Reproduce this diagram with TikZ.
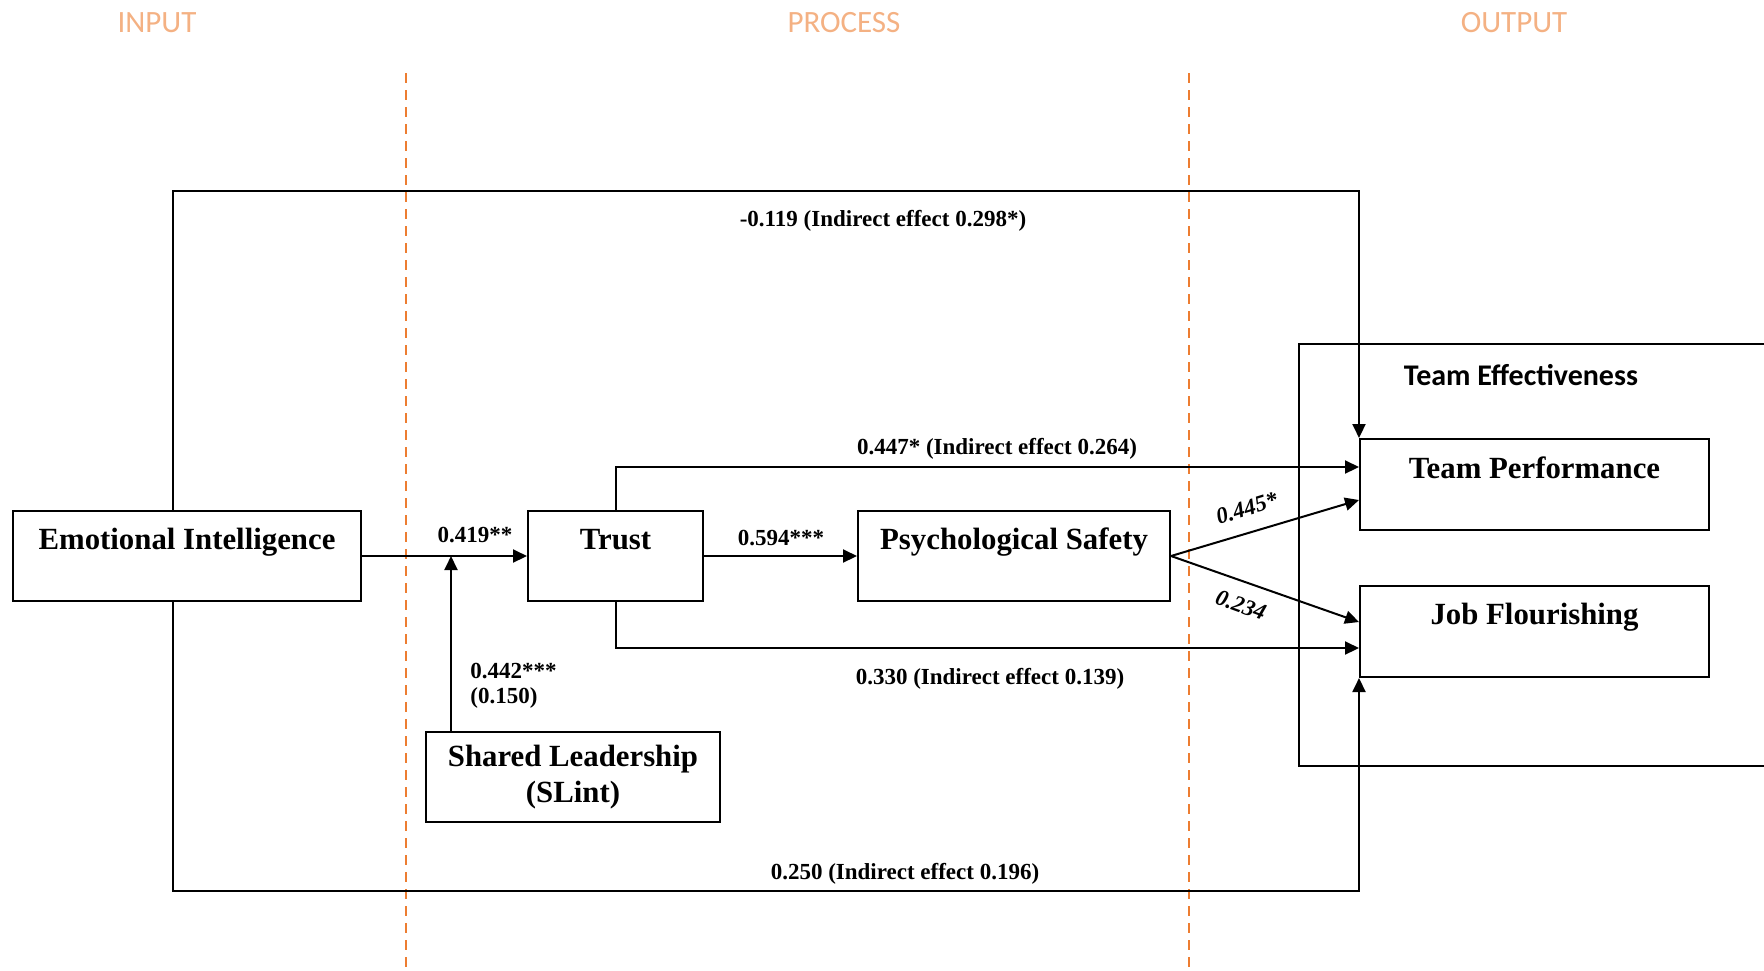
\documentclass[tikz,border=0pt]{standalone}
\usepackage{fontspec}
\setmainfont{Liberation Serif}
\newfontfamily\calfont{Carlito}
\usetikzlibrary{arrows.meta,calc}
\definecolor{phase}{RGB}{244,177,131}
\definecolor{divider}{RGB}{237,125,49}
\begin{document}
\begin{tikzpicture}[x=0.5pt,y=-0.5pt,
  box/.style={draw, line width=1pt, inner sep=0pt,
    font=\fontsize{15.4}{18}\selectfont\bfseries},
  onebox/.style={box, text height=19pt, text depth=26pt},
  lab/.style={inner sep=0pt, font=\fontsize{11.5}{13.8}\selectfont\bfseries},
  conn/.style={line width=1pt},
  arr/.style={conn, -{Triangle[length=7pt,width=6.5pt]}},
  phasetxt/.style={text=phase, inner sep=0pt, font=\calfont\fontsize{15.5}{18}\selectfont},
  divline/.style={draw=divider, line width=0.8pt, dash pattern=on 5pt off 3.5pt}]
\useasboundingbox (0,0) rectangle (1764,970);

% phase headings and dividers
\node[phasetxt] (hin)  at (157,23)  {INPUT};
\node[phasetxt] (hpro) at (844,23)  {PROCESS};
\node[phasetxt] (hout) at (1514,23) {OUTPUT};
\draw[divline] (406,73) -- (406,970);
\draw[divline] (1189,73) -- (1189,970);

% outcome container (open on the right)
\draw[line width=1pt] (1775,344) -- (1299,344) -- (1299,766) -- (1775,766);
\node[inner sep=0pt, font=\calfont\bfseries\fontsize{15}{18}\selectfont] (te) at (1521,375) {Team Effectiveness};

% variables
\node[onebox, minimum width=173.75pt] (EI)    at (187,556)    {Emotional Intelligence};
\node[onebox, minimum width=87.5pt]   (Trust) at (615.5,556)  {Trust};
\node[onebox, minimum width=156pt]    (PS)    at (1014,556)   {Psychological Safety};
\node[box, minimum width=147pt, minimum height=45pt, align=center] (SL) at (573,777)
  {Shared Leadership\\(SLint)};
\node[box, minimum width=174.5pt, text height=19.5pt, text depth=26pt] (TP) at (1534.5,484.5) {Team Performance};
\node[box, minimum width=174.5pt, text height=19pt, text depth=26.5pt] (JF) at (1534.5,631.5) {Job Flourishing};

% paths
\coordinate (eiUp)   at ([xshift=-7pt]EI.north);
\coordinate (eiDown) at ([xshift=-7pt]EI.south);
\coordinate (slUp)   at ([xshift=13pt]SL.north west);

\draw[arr] (eiUp) -- (eiUp |- 0,191) -| (TP.north west);
\draw[arr] (eiDown) -- (eiDown |- 0,891) -| (JF.south west);
\draw[arr] (EI.east) -- (Trust.west);
\draw[arr] (slUp) -- (slUp |- EI.east);
\draw[arr] (Trust.east) -- (PS.west);
\draw[arr] (Trust.north) |- ([yshift=8.75pt]TP.west);
\draw[arr] (Trust.south) |- ([yshift=-8.25pt]JF.west);
\draw[arr] (PS.east) -- ([yshift=-7.75pt]TP.west);
\draw[arr] (PS.east) -- ([yshift=4.75pt]JF.west);

% coefficients
\node[lab] (l1) at (883,221) {-0.119 (Indirect effect 0.298*)};
\node[lab] (l2) at (905,874) {0.250 (Indirect effect 0.196)};
\node[lab] (l3) at (475,535) {0.419**};
\node[lab] (l4) at (781,538) {0.594***};
\node[lab, anchor=west] (l5) at (470,671) {0.442***};
\node[lab, anchor=west] (l6) at (470,698) {(0.150)};
\node[lab] (l7) at (997,449) {0.447* (Indirect effect 0.264)};
\node[lab] (l8) at (990,679) {0.330 (Indirect effect 0.139)};
\node[lab, font=\fontsize{11.5}{13.8}\selectfont\bfseries\itshape, rotate=17]  (l9)  at (1247,508) {0.445*};
\node[lab, font=\fontsize{11.5}{13.8}\selectfont\bfseries\itshape, rotate=-20] (l10) at (1241,605) {0.234};
\end{tikzpicture}
\end{document}
